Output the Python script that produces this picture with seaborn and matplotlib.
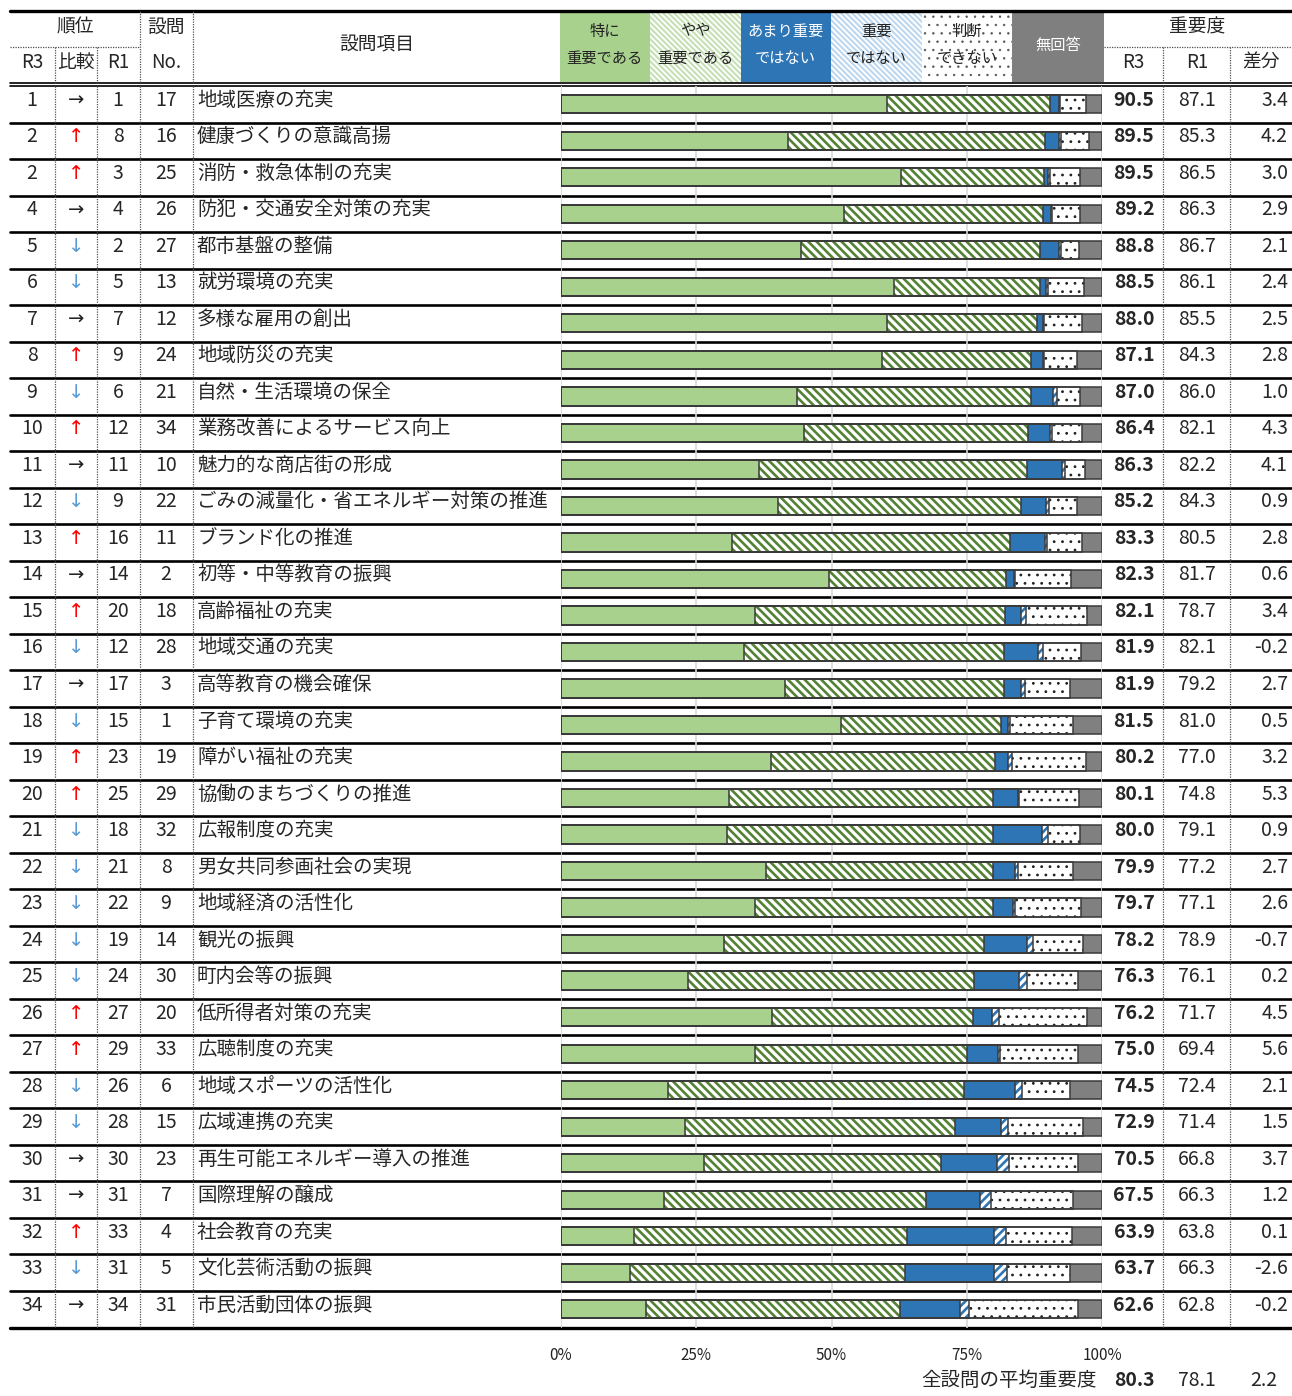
import numpy as np
import pandas as pd
import matplotlib.pyplot as plt
import seaborn as sns
from matplotlib.patches import Rectangle

# Data
rank_r3 = [1, 2, 2, 4, 5, 6, 7, 8, 9, 10, 11, 12, 13, 14, 15, 16, 17,
           18, 19, 20, 21, 22, 23, 24, 25, 26, 27, 28, 29, 30, 31, 32, 33, 34]
rank_r1 = [1, 8, 3, 4, 2, 5, 7, 9, 6, 12, 11, 9, 16, 14, 20, 12, 17,
           15, 23, 25, 18, 21, 22, 19, 24, 27, 29, 26, 28, 30, 31, 33, 31, 34]
question_no = [17, 16, 25, 26, 27, 13, 12, 24, 21, 34, 10, 22, 11, 2, 18, 28, 3,
               1, 19, 29, 32, 8, 9, 14, 30, 20, 33, 6, 15, 23, 7, 4, 5, 31]
items = [
    "地域医療の充実", "健康づくりの意識高揚", "消防・救急体制の充実", "防犯・交通安全対策の充実",
    "都市基盤の整備", "就労環境の充実", "多様な雇用の創出", "地域防災の充実",
    "自然・生活環境の保全", "業務改善によるサービス向上", "魅力的な商店街の形成",
    "ごみの減量化・省エネルギー対策の推進", "ブランド化の推進", "初等・中等教育の振興",
    "高齢福祉の充実", "地域交通の充実", "高等教育の機会確保", "子育て環境の充実",
    "障がい福祉の充実", "協働のまちづくりの推進", "広報制度の充実", "男女共同参画社会の実現",
    "地域経済の活性化", "観光の振興", "町内会等の振興", "低所得者対策の充実",
    "広聴制度の充実", "地域スポーツの活性化", "広域連携の充実", "再生可能エネルギー導入の推進",
    "国際理解の醸成", "社会教育の充実", "文化芸術活動の振興", "市民活動団体の振興",
]
score_r3 = [90.5, 89.5, 89.5, 89.2, 88.8, 88.5, 88.0, 87.1, 87.0, 86.4, 86.3, 85.2,
            83.3, 82.3, 82.1, 81.9, 81.9, 81.5, 80.2, 80.1, 80.0, 79.9, 79.7, 78.2,
            76.3, 76.2, 75.0, 74.5, 72.9, 70.5, 67.5, 63.9, 63.7, 62.6]
score_r1 = [87.1, 85.3, 86.5, 86.3, 86.7, 86.1, 85.5, 84.3, 86.0, 82.1, 82.2, 84.3,
            80.5, 81.7, 78.7, 82.1, 79.2, 81.0, 77.0, 74.8, 79.1, 77.2, 77.1, 78.9,
            76.1, 71.7, 69.4, 72.4, 71.4, 66.8, 66.3, 63.8, 66.3, 62.8]
score_diff = [3.4, 4.2, 3.0, 2.9, 2.1, 2.4, 2.5, 2.8, 1.0, 4.3, 4.1, 0.9,
              2.8, 0.6, 3.4, -0.2, 2.7, 0.5, 3.2, 5.3, 0.9, 2.7, 2.6, -0.7,
              0.2, 4.5, 5.6, 2.1, 1.5, 3.7, 1.2, 0.1, -2.6, -0.2]
average_scores = [80.3, 78.1, 2.2]

# answer shares (%)
very_important = [60.2, 41.9, 62.9, 52.3, 44.3, 61.5, 60.3, 59.3, 43.6, 44.9, 36.6, 40.1,
                  31.6, 49.6, 35.9, 33.8, 41.4, 51.8, 38.8, 31.0, 30.6, 37.9, 35.9, 30.2,
                  23.4, 39.0, 35.9, 19.7, 23.0, 26.5, 19.1, 13.5, 12.8, 15.7]
rather_important = [30.1, 47.6, 26.4, 36.8, 44.3, 27.0, 27.6, 27.6, 43.3, 41.5, 49.6, 44.9,
                    51.4, 32.7, 46.2, 48.1, 40.5, 29.6, 41.4, 48.9, 49.3, 42.0, 43.9, 47.9,
                    53.0, 37.1, 39.1, 54.7, 49.8, 43.8, 48.3, 50.4, 50.8, 46.9]
not_very_important = [1.7, 2.5, 0.7, 1.4, 3.4, 1.1, 1.2, 2.2, 4.1, 3.9, 6.4, 4.6,
                      6.4, 1.5, 3.0, 6.3, 3.2, 1.2, 2.5, 4.5, 9.1, 4.0, 3.7, 8.0,
                      8.2, 3.6, 5.7, 9.6, 8.5, 10.2, 10.0, 16.1, 16.4, 11.1]
not_important = [0.3, 0.4, 0.3, 0.3, 0.4, 0.4, 0.2, 0.1, 0.6, 0.5, 0.6, 0.6,
                 0.5, 0.2, 0.9, 0.9, 0.7, 0.4, 0.7, 0.2, 1.0, 0.6, 0.5, 1.1,
                 1.6, 1.2, 0.5, 1.3, 1.4, 2.4, 2.1, 2.2, 2.4, 1.7]
cannot_judge = [4.8, 5.2, 5.6, 5.1, 3.4, 6.6, 7.0, 6.2, 4.3, 5.5, 3.7, 5.2,
                6.4, 10.2, 11.3, 7.0, 8.2, 11.7, 13.7, 11.2, 5.9, 10.2, 12.1, 9.3,
                9.3, 16.4, 14.4, 8.8, 13.7, 12.7, 15.2, 12.2, 11.7, 20.2]
no_answer = [2.9, 2.4, 4.1, 4.1, 4.2, 3.4, 3.7, 4.6, 4.1, 3.7, 3.1, 4.6,
             3.7, 5.8, 2.7, 3.9, 6.0, 5.3, 2.9, 4.2, 4.1, 5.3, 3.9, 3.5,
             4.5, 2.7, 4.4, 5.9, 3.6, 4.4, 5.3, 5.6, 5.9, 4.4]

legend_labels = ["特に\n重要である", "やや\n重要である", "あまり重要\nではない",
                 "重要\nではない", "判断\nできない", "無回答"]
tick_values = [0, 25, 50, 75, 100]
tick_labels = ["0%", "25%", "50%", "75%", "100%"]

sns.set_theme(style="white")
plt.rcParams["font.family"] = ["Noto Sans CJK JP", "DejaVu Sans"]

W, H = 1292, 1396
fig = plt.figure(figsize=(W / 100, H / 100), dpi=100)

# pixel canvas for the table
ax0 = fig.add_axes([0, 0, 1, 1])
ax0.set_xlim(0, W)
ax0.set_ylim(H, 0)
ax0.axis("off")

n = len(items)
body_top = 86
body_bottom = 1327.5
row_h = (body_bottom - body_top) / n
bar_left, bar_right = 561, 1102

# bar axes
axb = fig.add_axes([bar_left / W, 1 - body_bottom / H,
                    (bar_right - bar_left) / W, (body_bottom - body_top) / H])

segments = [very_important, rather_important, not_very_important,
            not_important, cannot_judge, no_answer]
cum = np.cumsum(np.array(segments), axis=0)

styles = [
    dict(color="#A9D18E", edgecolor="#A9D18E", linewidth=0),
    dict(color="white", edgecolor="#548235", hatch="\\\\\\\\", linewidth=0),
    dict(color="#2E75B6", edgecolor="#2E75B6", linewidth=0),
    dict(color="white", edgecolor="#2E75B6", hatch="////", linewidth=0),
    dict(color="white", edgecolor="#222222", hatch="..", linewidth=0),
    dict(color="#808080", edgecolor="#808080", linewidth=0),
]
hatch_widths = [1.0, 1.9, 1.0, 1.9, 0.8, 1.0]


def set_hatch_width(patches, w):
    for p in patches:
        if hasattr(p, "set_hatch_linewidth"):
            p.set_hatch_linewidth(w)


# stacked bars: draw cumulative totals from the right end back to the left
for k in range(len(segments) - 1, -1, -1):
    plt.rcParams["hatch.linewidth"] = hatch_widths[k]
    start = len(axb.patches)
    df = pd.DataFrame({"item": items, "value": cum[k]})
    sns.barplot(data=df, x="value", y="item", order=items, orient="h",
                width=0.5, errorbar=None, saturation=1, ax=axb, **styles[k])
    set_hatch_width(axb.patches[start:], hatch_widths[k])

# segment outlines
for k in range(len(segments) - 1, -1, -1):
    df = pd.DataFrame({"item": items, "value": cum[k]})
    sns.barplot(data=df, x="value", y="item", order=items, orient="h",
                width=0.5, errorbar=None, saturation=1, ax=axb,
                facecolor=(0, 0, 0, 0), edgecolor="#3A3A3A", linewidth=1.1)

axb.set_xlim(0, 100)
axb.set_ylim(n - 0.5, -0.5)
axb.set_xlabel("")
axb.set_ylabel("")
axb.set_yticks([])
axb.set_xticks(tick_values)
axb.set_xticklabels(tick_labels, fontsize=11, color="#222222")
axb.tick_params(axis="x", length=0, pad=14)
axb.grid(axis="x", color="#D9D9D9", linewidth=1.2)
axb.set_axisbelow(True)
for s in axb.spines.values():
    s.set_visible(False)
axb.patch.set_alpha(0)

# header legend cells
cell_edges = [559.5, 649.5, 741, 830.5, 922, 1012, 1103.5]
header_top, header_bottom = 12, 82
cell_styles = [
    dict(facecolor="#A9D18E", edgecolor="none"),
    dict(facecolor="white", edgecolor="#C5E0B4", hatch="\\\\\\\\\\\\", linewidth=0),
    dict(facecolor="#2E75B6", edgecolor="none"),
    dict(facecolor="white", edgecolor="#BDD7EE", hatch="\\\\\\\\\\\\", linewidth=0),
    dict(facecolor="white", edgecolor="#555555", hatch="..", linewidth=0),
    dict(facecolor="#7F7F7F", edgecolor="none"),
]
cell_hatch_widths = [1.0, 1.5, 1.0, 1.5, 0.5, 1.0]
text_colors = ["#222222", "#222222", "white", "#222222", "#222222", "white"]
for i, label in enumerate(legend_labels):
    x0, x1 = cell_edges[i], cell_edges[i + 1]
    plt.rcParams["hatch.linewidth"] = cell_hatch_widths[i]
    rect = Rectangle((x0, header_top), x1 - x0, header_bottom - header_top,
                     **cell_styles[i])
    ax0.add_patch(rect)
    set_hatch_width([rect], cell_hatch_widths[i])
    lines = label.split("\n")
    if len(lines) == 2:
        ax0.text((x0 + x1) / 2, 31, lines[0], ha="center", va="center",
                 fontsize=11, color=text_colors[i])
        ax0.text((x0 + x1) / 2, 58, lines[1], ha="center", va="center",
                 fontsize=11, color=text_colors[i])
    else:
        ax0.text((x0 + x1) / 2, 45, lines[0], ha="center", va="center",
                 fontsize=11, color=text_colors[i])

# header texts
hs = 13.5
ax0.text(75, 27, "順位", ha="center", va="center", fontsize=hs)
ax0.text(32, 62, "R3", ha="center", va="center", fontsize=hs)
ax0.text(76, 62, "比較", ha="center", va="center", fontsize=hs)
ax0.text(118, 62, "R1", ha="center", va="center", fontsize=hs)
ax0.text(166, 27, "設問", ha="center", va="center", fontsize=hs)
ax0.text(166, 62, "No.", ha="center", va="center", fontsize=hs)
ax0.text(377, 45, "設問項目", ha="center", va="center", fontsize=hs)
ax0.text(1197, 27, "重要度", ha="center", va="center", fontsize=hs)
ax0.text(1133, 62, "R3", ha="center", va="center", fontsize=hs)
ax0.text(1197, 62, "R1", ha="center", va="center", fontsize=hs)
ax0.text(1261, 62, "差分", ha="center", va="center", fontsize=hs)

# table lines
ax0.plot([10, W], [11, 11], color="black", lw=2.4)
ax0.plot([10, W], [82.5, 82.5], color="black", lw=1.2)
ax0.plot([10, W], [86, 86], color="black", lw=1.2)
ax0.plot([10, W], [body_bottom, body_bottom], color="black", lw=2.4)
for k in range(1, n):
    y = body_top + k * row_h
    ax0.plot([10, W], [y, y], color="black", lw=1.9)

dot = dict(color="#505050", lw=0.9, linestyle=(0, (1, 1)))
ax0.plot([10, 140], [47, 47], **dot)
ax0.plot([1104, W], [47, 47], **dot)
for x in [55, 97, 1163, 1230]:
    ax0.plot([x, x], [47, 82.5], **dot)
for x in [140, 193]:
    ax0.plot([x, x], [11, 82.5], **dot)
for x in [55, 97, 140, 193, 1163, 1230]:
    ax0.plot([x, x], [body_top, body_bottom], **dot)

# body texts
fs = 14
for i in range(n):
    y = body_top + (i + 0.5) * row_h - 4
    if rank_r3[i] < rank_r1[i]:
        arrow, acolor = "↑", "#FF0000"
    elif rank_r3[i] > rank_r1[i]:
        arrow, acolor = "↓", "#5B9BD5"
    else:
        arrow, acolor = "→", "#222222"
    ax0.text(32, y, str(rank_r3[i]), ha="center", va="center", fontsize=fs)
    ax0.text(76, y, arrow, ha="center", va="center", fontsize=fs, color=acolor,
             family=["DejaVu Sans"])
    ax0.text(118, y, str(rank_r1[i]), ha="center", va="center", fontsize=fs)
    ax0.text(166, y, str(question_no[i]), ha="center", va="center", fontsize=fs)
    ax0.text(197, y, items[i], ha="left", va="center", fontsize=fs)
    ax0.text(1134, y, f"{score_r3[i]:.1f}", ha="center", va="center",
             fontsize=fs, fontweight="bold")
    ax0.text(1197, y, f"{score_r1[i]:.1f}", ha="center", va="center", fontsize=fs)
    ax0.text(1288, y, f"{score_diff[i]:.1f}", ha="right", va="center", fontsize=fs)

# footer
ax0.text(1097, 1380, "全設問の平均重要度", ha="right", va="center", fontsize=fs)
ax0.text(1134, 1380, f"{average_scores[0]:.1f}", ha="center", va="center",
         fontsize=fs, fontweight="bold")
ax0.text(1197, 1380, f"{average_scores[1]:.1f}", ha="center", va="center", fontsize=fs)
ax0.text(1277, 1380, f"{average_scores[2]:.1f}", ha="right", va="center", fontsize=fs)

fig.savefig("out.png", dpi=100)
